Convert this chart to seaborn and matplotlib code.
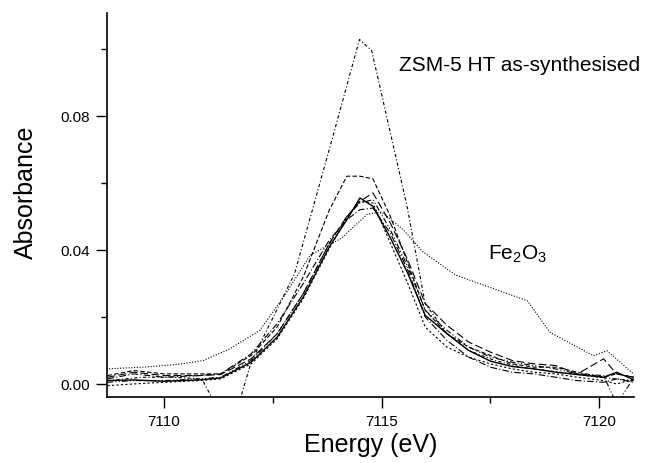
import numpy as np
import pandas as pd
from matplotlib import pyplot as plt
from matplotlib.ticker import MultipleLocator
import seaborn as sns

# Energy grid shared by the ZSM-5 sample curves (eV)
energy = [7108.7, 7109.3, 7110.0, 7110.8, 7111.3, 7112.0, 7112.6, 7113.2, 7113.8, 7114.2,
          7114.5, 7114.8, 7115.2, 7115.6, 7116.0, 7116.5, 7117.0, 7117.5, 7118.0, 7118.5,
          7119.0, 7119.5, 7120.1, 7120.4, 7120.8]

abs_solid = [0.0010, 0.0012, 0.0008, 0.0012, 0.0018, 0.0065, 0.0140, 0.0260, 0.0410, 0.0490,
             0.0555, 0.0530, 0.0436, 0.0330, 0.0205, 0.0150, 0.0100, 0.0068, 0.0052, 0.0045,
             0.0035, 0.0028, 0.0020, 0.0035, 0.0012]
abs_dash_hi = [0.0025, 0.0040, 0.0030, 0.0030, 0.0030, 0.0085, 0.0170, 0.0320, 0.0520, 0.0620,
               0.0620, 0.0612, 0.0500, 0.0360, 0.0220, 0.0150, 0.0110, 0.0085, 0.0060, 0.0050,
               0.0050, 0.0035, 0.0020, 0.0030, 0.0020]
abs_longdash = [0.0020, 0.0035, 0.0025, 0.0025, 0.0028, 0.0075, 0.0150, 0.0270, 0.0420, 0.0500,
                0.0545, 0.0570, 0.0480, 0.0370, 0.0240, 0.0175, 0.0125, 0.0095, 0.0070, 0.0060,
                0.0055, 0.0030, 0.0075, 0.0030, 0.0020]
abs_dashdot = [0.0015, 0.0030, 0.0020, 0.0025, 0.0030, 0.0090, 0.0180, 0.0300, 0.0430, 0.0490,
               0.0520, 0.0525, 0.0450, 0.0340, 0.0200, 0.0130, 0.0080, 0.0050, 0.0035, 0.0030,
               0.0020, 0.0010, 0.0005, 0.0015, 0.0005]
abs_dotted = [-0.0005, 0.0000, 0.0005, 0.0010, 0.0015, 0.0060, 0.0135, 0.0255, 0.0405, 0.0495,
              0.0545, 0.0540, 0.0420, 0.0300, 0.0170, 0.0110, 0.0080, 0.0060, 0.0045, 0.0035,
              0.0030, 0.0020, 0.0010, 0.0000, 0.0015]
abs_dashdotdot = [0.0005, 0.0010, 0.0010, 0.0015, 0.0020, 0.0070, 0.0150, 0.0270, 0.0420, 0.0500,
                  0.0540, 0.0550, 0.0460, 0.0350, 0.0220, 0.0160, 0.0110, 0.0080, 0.0065, 0.0055,
                  0.0045, 0.0030, 0.0025, -0.0060, 0.0020]

# As-synthesised sample
energy_as = [7108.7, 7109.5, 7110.2, 7110.87, 7111.52, 7112.0, 7113.0, 7113.82, 7114.49, 7114.77,
             7115.58, 7116.0, 7116.5, 7117.0, 7117.6, 7118.2, 7118.8, 7119.4, 7120.0, 7120.8]
abs_as = [0.0010, 0.0020, 0.0020, 0.0015, -0.0146, 0.0065, 0.0330, 0.0711, 0.1028, 0.0995,
          0.0532, 0.0240, 0.0150, 0.0100, 0.0070, 0.0050, 0.0040, 0.0030, 0.0020, 0.0010]

# Fe2O3 reference
energy_fe = [7108.67, 7109.5, 7110.3, 7110.9, 7111.5, 7112.2, 7112.8, 7113.36, 7114.09, 7114.67,
             7115.0, 7115.5, 7115.95, 7116.7, 7118.35, 7118.87, 7119.87, 7120.18, 7120.83]
abs_fe = [0.0045, 0.0050, 0.0058, 0.0070, 0.0104, 0.0160, 0.0270, 0.0385, 0.0436, 0.0507,
          0.0513, 0.0460, 0.0394, 0.0325, 0.0248, 0.0154, 0.0084, 0.0099, 0.0025]

sns.set_style('ticks')
plt.rcParams['font.family'] = ['Liberation Sans', 'DejaVu Sans']
plt.rcParams['mathtext.default'] = 'regular'
for key in ['text.color', 'axes.labelcolor', 'xtick.color', 'ytick.color', 'axes.edgecolor']:
    plt.rcParams[key] = 'black'

fig = plt.figure(figsize=(6.45, 4.64), dpi=100)
ax = fig.add_axes([0.1654, 0.1422, 0.8176, 0.8276])

curves = [
    (energy, abs_dashdot, (0, (6, 2, 1, 2)), 0.8),
    (energy, abs_dotted, (0, (2, 2)), 0.8),
    (energy, abs_dashdotdot, (0, (5, 2, 1, 2, 1, 2)), 0.8),
    (energy, abs_longdash, (0, (7, 3)), 0.8),
    (energy, abs_dash_hi, (0, (4, 2)), 0.8),
    (energy, abs_solid, '-', 1.0),
    (energy_as, abs_as, (0, (3, 2, 1, 2)), 0.8),
    (energy_fe, abs_fe, (0, (1, 1.5)), 0.8),
]
for xs, ys, ls, lw in curves:
    df = pd.DataFrame({'E': xs, 'A': ys})
    sns.lineplot(data=df, x='E', y='A', ax=ax, color='black', linestyle=ls,
                 linewidth=lw, errorbar=None, estimator=None)

ax.set_xlim(7108.68, 7120.8)
ax.set_ylim(-0.0039, 0.1107)
ax.xaxis.set_major_locator(MultipleLocator(5))
ax.xaxis.set_minor_locator(MultipleLocator(2.5))
ax.yaxis.set_major_locator(MultipleLocator(0.04))
ax.yaxis.set_minor_locator(MultipleLocator(0.02))
ax.set_yticks([0.0, 0.04, 0.08])
ax.set_yticklabels(['0.00', '0.04', '0.08'])
ax.tick_params(which='major', direction='out', length=8, width=1, labelsize=11, pad=4, color='black')
ax.tick_params(which='minor', direction='out', length=4, width=1, color='black')
for side in ['top', 'right']:
    ax.spines[side].set_visible(False)
for side in ['left', 'bottom']:
    ax.spines[side].set_linewidth(1.2)
    ax.spines[side].set_color('black')

ax.set_xlabel('Energy (eV)', fontsize=18)
ax.set_ylabel('Absorbance', fontsize=18)
ax.xaxis.set_label_coords(0.5, -0.09)
ax.yaxis.set_label_coords(-0.13, 0.535)

ax.text(7115.40, 0.0937, 'ZSM-5 HT as-synthesised', fontsize=15, va='baseline', ha='left')
ax.text(7117.45, 0.0373, 'Fe$_2$O$_3$', fontsize=15, va='baseline', ha='left')

plt.savefig('out.png', dpi=100)
plt.close()
